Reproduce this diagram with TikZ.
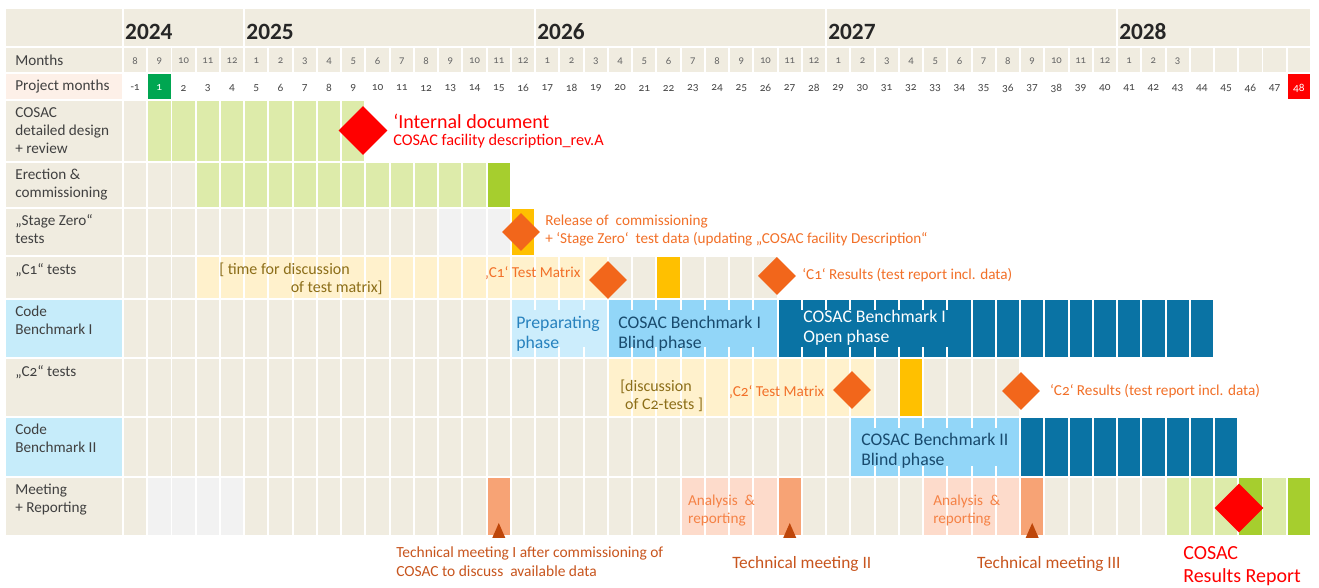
\documentclass[tikz,border=0pt]{standalone}
\usepackage{fontspec}
\setmainfont{Carlito}[Numbers=OldStyle]
\usetikzlibrary{shapes.geometric,positioning}
\definecolor{cellbeige}{RGB}{240,236,224}
\definecolor{lgreen}{RGB}{221,235,170}
\definecolor{bgreen}{RGB}{166,206,46}
\definecolor{pmgreen}{RGB}{0,166,81}
\definecolor{pmpeach}{RGB}{253,240,232}
\definecolor{lgray}{RGB}{242,242,242}
\definecolor{gold}{RGB}{255,192,0}
\definecolor{lyellow}{RGB}{255,241,204}
\definecolor{lblue}{RGB}{198,236,250}
\definecolor{prepblue}{RGB}{204,237,252}
\definecolor{blindblue}{RGB}{146,214,248}
\definecolor{openblue}{RGB}{10,115,164}
\definecolor{salmon}{RGB}{247,163,117}
\definecolor{pink}{RGB}{253,219,203}
\definecolor{msred}{RGB}{255,0,0}
\definecolor{msorange}{RGB}{242,102,27}
\definecolor{ortext}{RGB}{242,112,40}
\definecolor{olive}{RGB}{140,110,25}
\definecolor{anatext}{RGB}{245,130,70}
\definecolor{tmtext}{RGB}{200,85,30}
\definecolor{tritip}{RGB}{190,70,10}
\definecolor{preptext}{RGB}{40,130,190}
\definecolor{blindtext}{RGB}{25,75,110}
\definecolor{labelgray}{RGB}{64,64,64}
% one column of cells per month, rows given in pixels (top, bottom)
\newcommand{\cellrun}[5]{\foreach \k in {#3,...,#4}{\fill[#5] (\k+0.04,#1+1) rectangle (\k+0.96,#2-1);}}
\newcommand{\labelcell}[3]{\fill[#3] (-4.83,#1+1) rectangle (-0.04,#2-1);}

\begin{document}
\begin{tikzpicture}[x=18.184pt, y=-0.75pt,
  rowlabel/.style={anchor=north west, inner sep=0pt, align=left, text=labelgray,
                   font=\fontsize{11.4}{13.5}\selectfont},
  yearlbl/.style={anchor=west, inner sep=0pt, text=black!85,
                  font=\fontsize{17.5}{17.5}\selectfont\bfseries\addfontfeatures{Numbers=Lining}},
  monthnum/.style={inner sep=0pt, text=black!60, font=\fontsize{8}{8}\selectfont},
  pmnum/.style={inner sep=0pt, text=black!72, font=\fontsize{8.5}{8.5}\selectfont},
  note/.style={anchor=west, inner sep=0pt, align=left, font=\fontsize{11.4}{13.5}\selectfont},
  phase/.style={anchor=west, inner sep=0pt, align=left, font=\fontsize{13.3}{14.8}\selectfont},
  mile/.style={diamond, aspect=1, inner sep=0pt, minimum width=28.5pt,
               minimum height=28.5pt, fill=msorange},
  bigmile/.style={mile, minimum width=36.75pt, minimum height=36.75pt, fill=msred}]

\fill[white] (-5.073,0) rectangle (49.33,588);

% --- years ---
\labelcell{8}{47}{cellbeige}
\foreach \a/\b in {0/5,5/17,17/29,29/41,41/49} \fill[cellbeige] (\a+0.04,9) rectangle (\b-0.04,46);
\foreach \y/\x in {2024/0,2025/5,2026/17,2027/29,2028/41}
  \node[yearlbl] (yr-\y) at (\x+0.08,32) {\y};

% --- months ---
\labelcell{47}{73}{cellbeige}
\cellrun{47}{73}{0}{48}{cellbeige}
\node[rowlabel, anchor=west] (lbl-months) at (-4.45,60.5) {Months};
\foreach \m [count=\k from 0] in {8,9,10,11,12,1,2,3,4,5,6,7,8,9,10,11,12,
    1,2,3,4,5,6,7,8,9,10,11,12,1,2,3,4,5,6,7,8,9,10,11,12,1,2,3}
  \node[monthnum] (m-\k) at (\k+0.5,61) {\m};

% --- project months ---
\labelcell{73}{100}{pmpeach}
\cellrun{73}{100}{1}{1}{pmgreen}
\cellrun{73}{100}{48}{48}{msred}
\node[rowlabel, anchor=west] (lbl-pm) at (-4.45,87) {Project months};
\node[pmnum] (pm-0) at (0.5,88) {-1};
\node[pmnum, text=white] (pm-1) at (1.5,88) {1};
\foreach \k in {2,...,47} \node[pmnum] (pm-\k) at (\k+0.5,88) {\k};
\node[pmnum, text=white] (pm-48) at (48.5,88) {48};

% --- work package rows ---
\labelcell{100}{162}{cellbeige}
\foreach \a/\b/\col in {0/0/cellbeige,1/9/lgreen} \cellrun{100}{162}{\a}{\b}{\col};
\labelcell{162}{208}{cellbeige}
\foreach \a/\b/\col in {0/2/cellbeige,3/14/lgreen,15/15/bgreen} \cellrun{162}{208}{\a}{\b}{\col};
\labelcell{208}{256}{cellbeige}
\foreach \a/\b/\col in {0/12/cellbeige,13/15/lgray,16/16/gold} \cellrun{208}{256}{\a}{\b}{\col};
\labelcell{256}{299}{cellbeige}
\foreach \a/\b/\col in {0/2/cellbeige,3/19/lyellow,20/26/cellbeige,22/22/gold} \cellrun{256}{299}{\a}{\b}{\col};
\labelcell{299}{358}{lblue}
\foreach \a/\b/\col in {0/15/cellbeige,16/19/prepblue,20/26/blindblue,27/44/openblue} \cellrun{299}{358}{\a}{\b}{\col};
\labelcell{358}{417}{cellbeige}
\foreach \a/\b/\col in {0/19/cellbeige,20/30/lyellow,31/36/cellbeige,32/32/gold} \cellrun{358}{417}{\a}{\b}{\col};
\labelcell{417}{477}{lblue}
\foreach \a/\b/\col in {0/29/cellbeige,30/36/blindblue,37/45/openblue} \cellrun{417}{477}{\a}{\b}{\col};
\labelcell{477}{536}{cellbeige}
\foreach \a/\b/\col in {0/0/cellbeige,1/4/lgray,5/14/cellbeige,15/15/salmon,16/22/cellbeige,
    23/26/pink,27/27/salmon,28/32/cellbeige,33/36/pink,37/37/salmon,38/42/cellbeige,
    43/45/lgreen,46/46/bgreen,47/47/lgreen,48/48/bgreen} \cellrun{477}{536}{\a}{\b}{\col};

% phase bars close the gaps except short ticks at the edges
\fill[prepblue] (16.04,310) rectangle (19.96,347);
\fill[blindblue] (20.04,310) rectangle (26.96,347);
\fill[openblue] (27.04,310) rectangle (34.96,347);
\fill[blindblue] (30.04,428) rectangle (36.96,466);

\node[rowlabel] (lbl-cosac) at (-4.45,107) {COSAC\\detailed design\\+ review};
\node[rowlabel] (lbl-erect) at (-4.45,169) {Erection \&\\commissioning};
\node[rowlabel] (lbl-zero) at (-4.45,214) {„Stage Zero“\\tests};
\node[rowlabel] (lbl-c1) at (-4.45,263) {„C1“ tests};
\node[rowlabel] (lbl-cb1) at (-4.45,306) {Code\\Benchmark I};
\node[rowlabel] (lbl-c2) at (-4.45,365) {„C2“ tests};
\node[rowlabel] (lbl-cb2) at (-4.45,424) {Code\\Benchmark II};
\node[rowlabel] (lbl-meet) at (-4.45,484) {Meeting\\+ Reporting};

% --- milestones ---
\node[bigmile] (ms-doc) at (9.9,130.5) {};
\node[mile] (ms-zero) at (16.42,232) {};
\node[mile] (ms-c1tm) at (20.0,280) {};
\node[mile] (ms-c1res) at (26.97,276) {};
\node[mile] (ms-c2tm) at (30.07,390) {};
\node[mile] (ms-c2res) at (37.04,391) {};
\node[bigmile] (ms-report) at (46.03,508) {};
\foreach \k in {15,27,37} \fill[tritip] (\k+0.23,538) -- (\k+0.77,538) -- (\k+0.5,523) -- cycle;

% --- texts ---
\node[note, text=msred, font=\fontsize{15}{16}\selectfont] (intdoc) at (11.14,121) {‘Internal document};
\node[note, text=msred, font=\fontsize{12.2}{13}\selectfont] (intdesc) at (11.14,141) {COSAC facility description\_rev.A};
\node[note, text=ortext] (release) at (17.41,231)
  {Release of\ \ commissioning\\+ ‘Stage Zero‘\ \ test data (updating „COSAC facility Description“};
\node[note, text=olive, font=\fontsize{12}{13}\selectfont] (c1disc) at (3.96,270) {[ time for discussion};
\node[note, text=olive, font=\fontsize{12}{13}\selectfont, anchor=east] (c1disc2) at (10.72,288) {of test matrix]};
\node[note, text=ortext] (c1tm) at (14.93,273) {‚C1‘ Test Matrix};
\node[note, text=ortext] (c1res) at (28.01,275) {‘C1‘ Results (test report incl. data)};
\node[phase, text=preptext] (prep) at (16.21,334) {Preparating\\phase};
\node[phase, text=blindtext] (blind1) at (20.42,334) {COSAC Benchmark I\\Blind phase};
\node[phase, text=white] (open1) at (28.05,328) {COSAC Benchmark I\\Open phase};
\node[note, text=olive, font=\fontsize{12}{13.5}\selectfont] (c2disc) at (20.5,396) {[discussion\\\hspace{0.3em}of C2-tests ]};
\node[note, text=ortext] (c2tm) at (24.99,392) {‚C2‘ Test Matrix};
\node[note, text=ortext] (c2res) at (38.23,391) {‘C2‘ Results (test report incl. data)};
\node[phase, text=blindtext] (blind2) at (30.44,451) {COSAC Benchmark II\\Blind phase};
\node[note, text=anatext] (ana1) at (23.3,511) {Analysis\ \ \&\\reporting};
\node[note, text=anatext] (ana2) at (33.41,511) {Analysis\ \ \&\\reporting};
\node[note, text=tmtext, font=\fontsize{11.6}{14}\selectfont] (tm1) at (11.26,562)
  {Technical meeting I after commissioning of\\COSAC to discuss\ \ available data};
\node[note, text=tmtext, font=\fontsize{13}{14}\selectfont] (tm2) at (25.12,564) {Technical meeting II};
\node[note, text=tmtext, font=\fontsize{13}{14}\selectfont] (tm3) at (35.22,564) {Technical meeting III};
\node[note, text=msred, font=\fontsize{15}{17}\selectfont] (report) at (43.72,566) {COSAC\\Results Report};
\end{tikzpicture}
\end{document}
